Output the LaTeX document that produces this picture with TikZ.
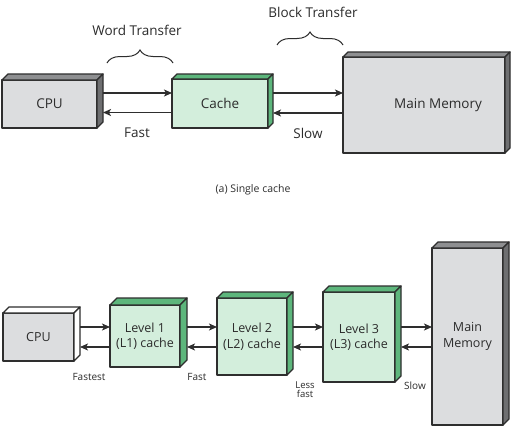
\documentclass[tikz,border=0pt]{standalone}
\usepackage{fontspec}
\setmainfont{Open Sans}
\usetikzlibrary{arrows.meta,decorations.pathreplacing,calc}
\definecolor{ink}{HTML}{2E2E2E}
\definecolor{txt}{HTML}{2C2C2C}
\definecolor{grayF}{HTML}{DCDDDF}
\definecolor{grayT}{HTML}{8E8F91}
\definecolor{grayS}{HTML}{6E6F71}
\definecolor{greenF}{HTML}{D3EEDC}
\definecolor{greenT}{HTML}{5DB67C}
\tikzset{
  face/.style={draw=ink, line width=1.3pt, line join=round},
  front/.style={face, inner sep=0pt, outer sep=0pt, text=txt, align=center},
  graybox/.style={front, fill=grayF},
  greenbox/.style={front, fill=greenF},
  arr/.style={draw=ink, line width=1.2pt, -{Stealth[length=8pt,width=7pt,inset=2pt]}},
  lbl/.style={text=txt, inner sep=0pt},
  brc/.style={draw=ink, line width=1pt, decorate, decoration={brace, amplitude=13pt, aspect=0.5}},
}
\newcommand\boxfaces[4]{%
  \filldraw[face,fill=#3] (#1.north west) -- ++(#2pt,#2pt) -- ([shift={(#2pt,#2pt)}]#1.north east) -- (#1.north east) -- cycle;
  \filldraw[face,fill=#4] (#1.north east) -- ([shift={(#2pt,#2pt)}]#1.north east) -- ([shift={(#2pt,#2pt)}]#1.south east) -- (#1.south east) -- cycle;
}
\begin{document}
\begin{tikzpicture}[x=1pt,y=-1pt]
\useasboundingbox[fill=white] (0,0) rectangle (521,434);
% ---------- (a) single cache ----------
\node[graybox, minimum width=95pt, minimum height=48pt, font=\fontsize{13.5}{15}\selectfont] (cpu) at (49.5,104) {CPU};
\boxfaces{cpu}{6}{grayT}{grayS}
\node[greenbox, minimum width=96pt, minimum height=49pt, font=\fontsize{13.5}{15}\selectfont] (cache) at (220,103.5) {Cache};
\boxfaces{cache}{5}{greenT}{greenT}
\node[graybox, minimum width=162pt, minimum height=96pt, font=\fontsize{13.5}{15}\selectfont,
      label={[lbl, xshift=14pt, font=\fontsize{13.5}{15}\selectfont]center:Main Memory}] (mem) at (424,105) {};
\boxfaces{mem}{5}{grayT}{grayS}

\coordinate (a1) at ([shift={(6pt,11pt)}]cpu.east);
\coordinate (a2) at ([yshift=-9pt]cache.west);
\draw[arr] (a1) -- (a1 -| cache.west);
\draw[arr] (a2) -- ($(a2 -| cpu.east)+(6pt,0)$);
\coordinate (a3) at ([shift={(5pt,10.5pt)}]cache.east);
\coordinate (a4) at ([yshift=-9.5pt]cache.west -| mem.west);
\draw[arr] (a3) -- (a3 -| mem.west);
\draw[arr] (a4) -- ($(a4 -| cache.east)+(5pt,0)$);

\node[lbl, font=\fontsize{13.5}{15}\selectfont] (wt) at (137,30) {Word Transfer};
\coordinate (wb1) at (107,63);
\coordinate (wb2) at (173,63);
\draw[brc] (wb1) -- (wb2);
\node[lbl, font=\fontsize{13.5}{15}\selectfont] (bt) at (313,12.5) {Block Transfer};
\coordinate (bb1) at (277,45);
\coordinate (bb2) at (343,45);
\draw[brc] (bb1) -- (bb2);
\node[lbl, font=\fontsize{13.5}{15}\selectfont] (fast1) at (137,133) {Fast};
\node[lbl, font=\fontsize{13.5}{15}\selectfont] (slow1) at (308,133) {Slow};
\node[lbl, font=\fontsize{10.5}{12}\selectfont] (cap) at (253,190) {(a) Single cache};

% ---------- multi-level ----------
\node[graybox, minimum width=71pt, minimum height=48pt, font=\fontsize{12.5}{15}\selectfont] (cpu2) at (38.5,337) {CPU};
\boxfaces{cpu2}{6}{white}{white}
\node[greenbox, minimum width=70pt, minimum height=62pt, font=\fontsize{12.5}{15.5}\selectfont] (l1) at (145,336) {Level 1\\(L1) cache};
\boxfaces{l1}{7}{greenT}{greenT}
\node[greenbox, minimum width=70pt, minimum height=77pt, font=\fontsize{12.5}{15.5}\selectfont] (l2) at (252,336.5) {Level 2\\(L2) cache};
\boxfaces{l2}{6}{greenT}{greenT}
\node[greenbox, minimum width=72pt, minimum height=90pt, font=\fontsize{12.5}{15.5}\selectfont] (l3) at (359,337) {Level 3\\(L3) cache};
\boxfaces{l3}{6}{greenT}{greenT}
\node[graybox, minimum width=71pt, minimum height=177pt, font=\fontsize{12.5}{15.5}\selectfont] (mm2) at (467.5,336.5) {Main\\Memory};
\boxfaces{mm2}{6}{grayT}{grayS}

\coordinate (c1) at ([shift={(6pt,10pt)}]cpu2.east);
\coordinate (c2) at ([yshift=-10pt]cpu2.east -| l1.west);
\draw[arr] (c1) -- (c1 -| l1.west);
\draw[arr] (c2) -- ($(c2 -| cpu2.east)+(6pt,0)$);
\coordinate (d1) at ([shift={(7pt,10pt)}]cpu2.east -| l1.east);
\coordinate (d2) at ([yshift=-10pt]cpu2.east -| l2.west);
\draw[arr] (d1) -- (d1 -| l2.west);
\draw[arr] (d2) -- ($(d2 -| l1.east)+(7pt,0)$);
\coordinate (e1) at ([shift={(6pt,10pt)}]cpu2.east -| l2.east);
\coordinate (e2) at ([yshift=-10pt]cpu2.east -| l3.west);
\draw[arr] (e1) -- (e1 -| l3.west);
\draw[arr] (e2) -- ($(e2 -| l2.east)+(6pt,0)$);
\coordinate (f1) at ([shift={(6pt,10pt)}]cpu2.east -| l3.east);
\coordinate (f2) at ([yshift=-10pt]cpu2.east -| mm2.west);
\draw[arr] (f1) -- (f1 -| mm2.west);
\draw[arr] (f2) -- ($(f2 -| l3.east)+(6pt,0)$);

\node[lbl, font=\fontsize{10}{11}\selectfont] (fastest) at (89,377) {Fastest};
\node[lbl, font=\fontsize{10}{11}\selectfont] (fast2) at (197,377) {Fast};
\node[lbl, font=\fontsize{9.5}{9}\selectfont, align=center] (lessfast) at (305,390) {Less\\fast};
\node[lbl, font=\fontsize{10}{11}\selectfont] (slow2) at (415,386) {Slow};
\end{tikzpicture}
\end{document}
